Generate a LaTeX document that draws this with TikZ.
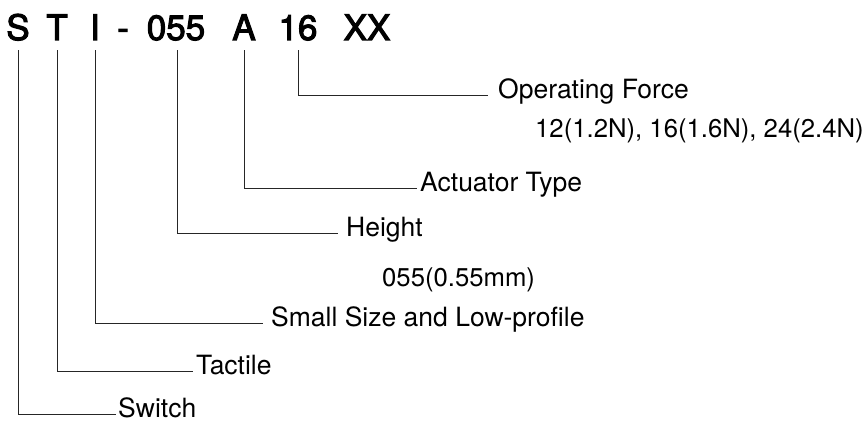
\documentclass[tikz,border=0pt]{standalone}
\usepackage{fontspec}
\setmainfont{TeX Gyre Heros}
\newfontfamily\titlefont[FakeBold=3]{TeX Gyre Heros}
\begin{document}
\begin{tikzpicture}[x=1pt,y=-1pt,
  part/.style={anchor=base,inner sep=0pt,text depth=0pt,font=\fontsize{35}{40}\titlefont},
  lab/.style={anchor=west,inner ysep=0pt,text height=0.72em,text depth=0pt,font=\fontsize{26.5}{30}\selectfont},
  sub/.style={anchor=base west,inner sep=0pt,font=\fontsize{25.7}{30}\selectfont},
  lead/.style={line width=0.9pt,draw=black!85}]
\useasboundingbox (0,0) rectangle (864,427);
% part number
\node[part] (pS) at (18,40) {S};
\node[part] (pT) at (57,40) {T};
\node[part] (pI) at (95,40) {I};
\node[part] (pD) at (123,40) {-};
\node[part] (p055) at (176,40) {055};
\node[part] (pA) at (244,40) {A};
\node[part] (p16) at (298,40) {16};
\node[part] (pXX) at (367,40) {XX};
% labels
\node[lab,inner xsep=10pt] (lOF) at (488,95) {Operating Force};
\node[sub] (sOF) at (535,138) {12(1.2N), 16(1.6N), 24(2.4N)};
\node[lab,inner xsep=3pt] (lAT) at (417,188) {Actuator Type};
\node[lab,inner xsep=8pt] (lH) at (338,233) {Height};
\node[sub] (sH) at (382,287) {055(0.55mm)};
\node[lab,inner xsep=8pt] (lSS) at (263,323) {Small Size and Low-profile};
\node[lab,inner xsep=3pt] (lT) at (193,371) {Tactile};
\node[lab,inner xsep=2pt] (lS) at (116,414) {Switch};
% leaders
\draw[lead] ([yshift=-10pt]p16.south) |- (lOF.west);
\draw[lead] ([yshift=-10pt]pA.south) |- (lAT.west);
\draw[lead] ([yshift=-10pt,xshift=1pt]p055.south) |- (lH.west);
\draw[lead] ([yshift=-10pt]pI.south) |- (lSS.west);
\draw[lead] ([yshift=-10pt]pT.south) |- (lT.west);
\draw[lead] ([yshift=-10pt]pS.south) |- (lS.west);
\end{tikzpicture}
\end{document}
